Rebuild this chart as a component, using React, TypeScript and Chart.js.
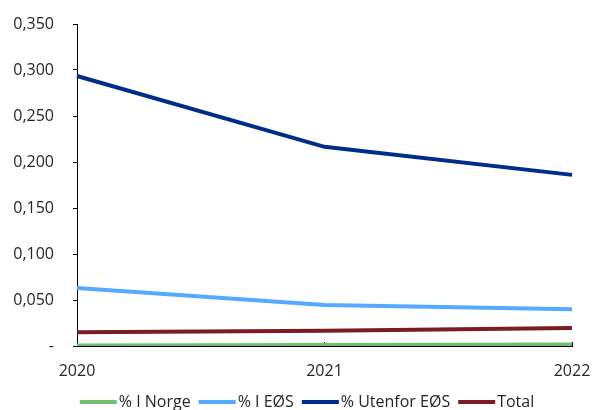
import React, { useEffect, useRef } from "react";
import { Chart, registerables } from "chart.js";

Chart.register(...registerables);

const years = ["2020", "2021", "2022"];
const norge = [0.0005, 0.001, 0.0015];
const eos = [0.063, 0.0445, 0.040];
const utenfor = [0.2935, 0.2165, 0.186];
const total = [0.015, 0.0165, 0.0195];

const seriesNames = ["% I Norge", "% I EØS", "% Utenfor EØS", "Total"];
const seriesColors = ["#72bf74", "#55aaff", "#002d8a", "#7b1c24"];

function legendLine(color: string) {
  const c = document.createElement("canvas");
  c.width = 43;
  c.height = 4;
  const g = c.getContext("2d")!;
  g.fillStyle = color;
  g.fillRect(5, 0, 37, 4);
  return c;
}

const FONT = "'Open Sans'";

// let the y tick labels extend to the left of the (narrow) axis box
const unclipYLabels = {
  id: "unclipYLabels",
  afterLayout(chart: any) {
    if (chart.scales.y) chart.scales.y.left = 0;
  },
};

export default function App() {
  const ref = useRef<HTMLCanvasElement | null>(null);
  useEffect(() => {
    document.body.style.margin = "0";
    const values = [norge, eos, utenfor, total];
    const chart = new Chart(ref.current!, {
      type: "line",
      data: {
        labels: years,
        datasets: values.map((v, i) => ({
          label: seriesNames[i],
          data: v,
          borderColor: seriesColors[i],
          backgroundColor: seriesColors[i],
          borderWidth: 4,
          pointRadius: 0,
          pointHoverRadius: 0,
          pointStyle: legendLine(seriesColors[i]) as any,
          tension: 0,
        })),
      },
      plugins: [unclipYLabels],
      options: {
        animation: false,
        responsive: false,
        maintainAspectRatio: false,
        layout: { padding: { left: 44, right: 20, top: 24, bottom: -10 } },
        plugins: {
          tooltip: { enabled: false },
          legend: {
            position: "bottom",
            labels: {
              usePointStyle: true,
              pointStyleWidth: 29,
              boxWidth: 29,
              padding: 10,
              color: "#262626",
              font: { family: FONT, size: 16 },
            },
          },
        },
        scales: {
          x: {
            offset: false,
            grid: { display: true, drawOnChartArea: false, color: "#000", tickLength: -4 },
            border: { color: "#000", width: 1 },
            afterFit: (s: any) => {
              s.height = 38;
            },
            ticks: {
              padding: 1,
              color: "#262626",
              maxRotation: 0,
              font: { family: FONT, size: 16, lineHeight: 3.5 },
            },
          },
          y: {
            min: 0,
            max: 0.35,
            grid: { display: true, drawOnChartArea: false, color: "#000", tickLength: 4 },
            border: { color: "#000", width: 1 },
            afterFit: (s: any) => {
              s.width = 33;
            },
            ticks: {
              stepSize: 0.05,
              padding: 19,
              color: "#262626",
              font: { family: FONT, size: 16, lineHeight: 0.6 },
              callback: (v: any) =>
                Number(v) === 0 ? "-" : Number(v).toFixed(3).replace(".", ","),
            },
          },
        },
      },
    });
    return () => chart.destroy();
  }, []);
  return (
    <div style={{ width: 592, height: 410 }}>
      <canvas ref={ref} width={592} height={410} />
    </div>
  );
}
